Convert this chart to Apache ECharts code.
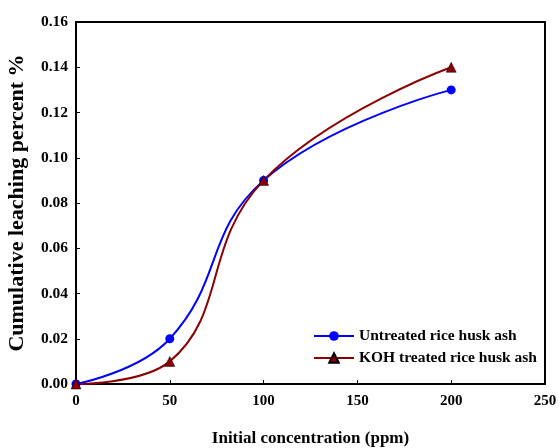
<!DOCTYPE html>
<html><head><meta charset="utf-8">
<script src="https://cdn.jsdelivr.net/npm/echarts@6/dist/echarts.min.js"></script>
<style>html,body{margin:0;padding:0;background:#fff}#c{width:559px;height:448px}</style>
</head><body><div id="c"></div>
<script>
const xValues = [0, 50, 100, 200];
const untreated = [0, 0.02, 0.09, 0.13];
const kohTreated = [0, 0.01, 0.09, 0.14];
const seriesNames = ['Untreated rice husk ash', 'KOH treated rice husk ash'];
const xTicks = [0, 50, 100, 150, 200, 250];
const yTicks = [0, 0.02, 0.04, 0.06, 0.08, 0.1, 0.12, 0.14, 0.16];

const chart = echarts.init(document.getElementById('c'));
const font = 'Liberation Serif';
const pair = (ys) => xValues.map((x, i) => [x, ys[i]]);
chart.setOption({
  animation: false,
  grid: { left: 76, right: 14, top: 22, bottom: 64, show: true, borderColor: '#000', borderWidth: 2,
    containLabel: false, outerBoundsMode: 'none' },
  legend: {
    left: 308, top: 323, orient: 'vertical', itemWidth: 40, itemHeight: 12, itemGap: 6,
    textStyle: { fontFamily: font, fontWeight: 'bold', fontSize: 15.5, color: '#000' },
    data: seriesNames
  },
  xAxis: {
    type: 'value', min: 0, max: 250, interval: 50,
    name: 'Initial concentration (ppm)', nameLocation: 'middle', nameGap: 46,
    nameTextStyle: { fontFamily: font, fontWeight: 'bold', fontSize: 17, color: '#000' },
    axisLine: { lineStyle: { color: '#000', width: 2 } },
    axisTick: { inside: true, length: 4, lineStyle: { color: '#000' } },
    axisLabel: { fontFamily: font, fontWeight: 'bold', fontSize: 15, color: '#000', margin: 10,
      formatter: v => xTicks.includes(v) ? String(v) : '' },
    splitLine: { show: false }
  },
  yAxis: {
    type: 'value', min: 0, max: 0.16, interval: 0.02,
    name: 'Cumulative leaching percent %', nameLocation: 'middle', nameGap: 48,
    nameTextStyle: { fontFamily: font, fontWeight: 'bold', fontSize: 22, color: '#000' },
    axisLine: { lineStyle: { color: '#000', width: 2 } },
    axisTick: { inside: true, length: 4, lineStyle: { color: '#000' } },
    axisLabel: { fontFamily: font, fontWeight: 'bold', fontSize: 15.5, color: '#000', margin: 8,
      formatter: v => yTicks.find(t => Math.abs(t - v) < 1e-9) !== undefined ? v.toFixed(2) : '' },
    splitLine: { show: false }
  },
  series: [
    { name: seriesNames[0], type: 'line', data: pair(untreated), smooth: 0.45, smoothConstraint: false,
      symbol: 'circle', symbolSize: 9, color: '#0000ff',
      lineStyle: { color: '#0000ff', width: 2 }, itemStyle: { color: '#0000ff' } },
    { name: seriesNames[1], type: 'line', data: pair(kohTreated), smooth: 0.45, smoothConstraint: false,
      symbol: 'triangle', symbolSize: 10, color: '#8b0000',
      lineStyle: { color: '#8b0000', width: 2 }, itemStyle: { color: '#8b0000', borderColor: '#000', borderWidth: 0.5 } }
  ]
});
</script></body></html>
